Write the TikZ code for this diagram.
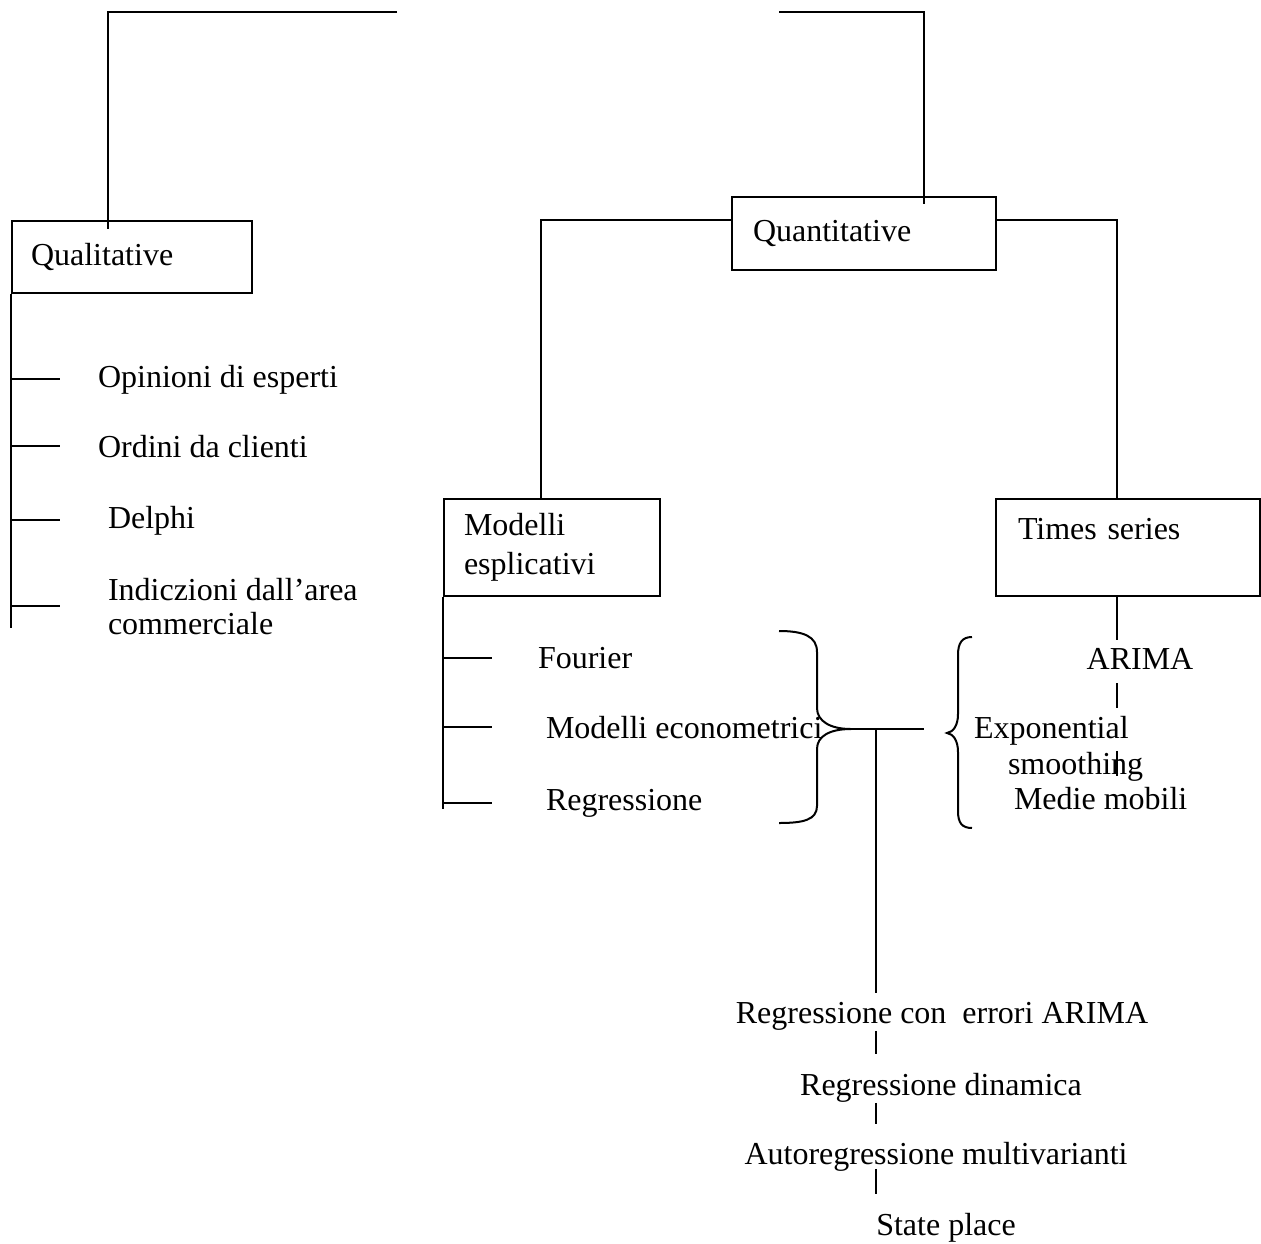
\documentclass[tikz,border=0pt]{standalone}
\usepackage{fontspec}
\setmainfont{Liberation Serif}
\usetikzlibrary{calc}

\begin{document}
\begin{tikzpicture}[x=1pt,y=-1pt,line width=2pt,font=\fontsize{32}{36}\selectfont,
    box/.style={draw,anchor=north west,align=left,inner ysep=0pt},
    leaf/.style={anchor=base west,inner sep=0pt},
    item/.style={anchor=base,inner sep=0pt}]
  \useasboundingbox (0,0) rectangle (1261,1243);

  % root branches, open at the top
  \coordinate (rootL) at (397,12);
  \coordinate (rootR) at (779,12);

  \node[box,inner xsep=19pt,text width=202pt,minimum height=72pt] (qual) at (11,220) {Qualitative};
  \node[box,inner xsep=21pt,text width=222pt,minimum height=73pt] (quant) at (731,196) {Quantitative};
  \node[box,inner xsep=20pt,text width=176pt,minimum height=97pt,font=\fontsize{32}{39}\selectfont] (expl) at (443,498) {Modelli\\esplicativi};
  \node[box,inner xsep=22pt,text width=220pt,minimum height=97pt,text depth=38pt] (tser) at (995,498) {Times series};

  \draw (rootL) -| ($(qual.north)+(-24,9)$);
  \draw (rootR) -| ($(quant.north)+(60,8)$);
  \draw ($(quant.north west)+(0,24)$) -| ($(expl.north)+(-11,0)$);
  \draw ($(quant.north east)+(0,24)$) -| ($(tser.north)+(-11,0)$);

  % qualitative methods
  \node[leaf] (opin) at (97,387) {Opinioni di esperti};
  \node[leaf] (ordi) at (97,457) {Ordini da clienti};
  \node[leaf] (delp) at (107,528) {Delphi};
  \node[leaf,anchor=north west,align=left,font=\fontsize{32}{34}\selectfont] (indi) at (107,577) {Indiczioni dall’area\\commerciale};
  \draw (qual.south west) -- ++(0,334);
  \foreach \n in {opin,ordi,delp,indi}
    \draw (qual.south west |- \n.west) -- ++(49,0);

  % explicative models
  \node[leaf] (four) at (537,668) {Fourier};
  \node[leaf] (econ) at (545,738) {Modelli econometrici};
  \node[leaf] (regr) at (545,810) {Regressione};
  \draw (expl.south west) -- ++(0,212);
  \foreach \n in {four,econ,regr}
    \draw (expl.south west |- \n.west) -- ++(49,0);

  % braces
  \draw (779,631) .. controls (803,631) and (817,636) .. (817,652) -- (817,708)
     .. controls (817,721) and (830,729) .. (851,729) coordinate (tip)
     .. controls (830,729) and (817,736) .. (817,749) -- (817,806)
     .. controls (817,820) and (803,823) .. (779,823);
  \draw (972,637) .. controls (962,637) and (958,643) .. (958,655) -- (958,714)
     .. controls (958,726) and (953,732) .. (947,733)
     .. controls (953,734) and (958,740) .. (958,752) -- (958,811)
     .. controls (958,823) and (962,828) .. (972,828);

  % time series
  \node[item] (arima) at (1140,669) {ARIMA};
  \node[leaf] (expo) at (973,738) {Exponential};
  \node[leaf] (smoo) at (1007,774) {smoothing};
  \node[leaf] (medi) at (1013,809) {Medie mobili};
  \coordinate (tsx) at ($(tser.south)+(-11,0)$);
  \draw (tsx) -- ++(0,43);
  \draw (tsx |- arima.south) ++(0,13) -- ++(0,25);
  \draw (tsx |- smoo.north) -- ++(0,25);

  % mixed models
  \coordinate (hub) at (876,729);
  \draw (tip) -- (924,729);
  \draw (hub) -- ++(0,264);
  \node[item] (rerr) at (942,1023) {Regressione con\ \ errori ARIMA};
  \node[item] (rdin) at (941,1095) {Regressione dinamica};
  \node[item] (avar) at (936,1164) {Autoregressione multivarianti};
  \node[item] (stpl) at (946,1235) {State place};
  \draw (hub |- rerr.south) -- ++(0,23);
  \draw (hub |- rdin.south) -- ++(0,21);
  \draw (hub |- avar.south) ++(0,-3) -- ++(0,25);
\end{tikzpicture}
\end{document}
